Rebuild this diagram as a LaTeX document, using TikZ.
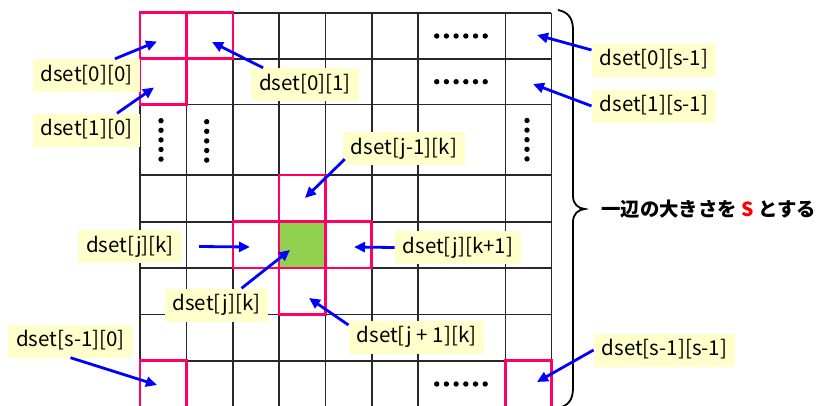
\documentclass[tikz,border=0pt]{standalone}
\usepackage{fontspec}
\setmainfont{Noto Sans CJK JP}
\usetikzlibrary{arrows.meta,calc}
\definecolor{gridgray}{RGB}{40,40,40}
\definecolor{hipink}{RGB}{255,0,102}
\definecolor{tagyellow}{RGB}{255,255,204}
\definecolor{cellgreen}{RGB}{146,208,80}
\begin{document}
\begin{tikzpicture}[x=1pt,y=-1pt,
  gridline/.style={line width=1.6pt, draw=gridgray},
  hilite/.style={line width=2.6pt, draw=hipink},
  tag/.style={fill=tagyellow, font=\fontsize{20.5}{20.5}\selectfont, inner xsep=8pt,
    inner ysep=0pt, minimum height=33pt, text height=15pt, text depth=4pt},
  ptr/.style={draw=blue, line width=2.8pt, -{Triangle[length=11pt,width=10pt]}},
  brace/.style={line width=1.8pt, draw=black}
]
\useasboundingbox (0,0) rectangle (819,405);

% grid
\foreach \x in {140,186.5,233,279,325.5,371.7,418,505.3,551.3}
  \draw[gridline] (\x,12.7) -- (\x,410);
\foreach \y in {12.7,58.7,104.3,175,221.7,268,314.3,360.7}
  \draw[gridline] (140,\y) -- (551.3,\y);

% highlighted cells
\draw[hilite] (140,12.7) rectangle (186.5,58.7);
\draw[hilite] (186.5,12.7) rectangle (233,58.7);
\draw[hilite] (140,58.7) rectangle (186.5,104.3);
\draw[hilite] (279,175) rectangle (325.5,221.7);
\draw[hilite] (233,221.7) rectangle (279,268);
\draw[hilite] (325.5,221.7) rectangle (371.7,268);
\draw[hilite] (279,268) rectangle (325.5,314.3);
\draw[hilite, fill=cellgreen] (279,221.7) rectangle (325.5,268);
\draw[hilite] (140,360.7) rectangle (186.5,412);
\draw[hilite] (505.3,360.7) rectangle (551.3,412);

% ellipsis dots
\foreach \x in {436.7,446.4,456.1,465.8,475.5,485.2} {
  \fill (\x,36) circle[radius=2.7pt];
  \fill (\x,81.7) circle[radius=2.7pt];
  \fill (\x,384) circle[radius=2.7pt];
}
\foreach \y in {0,9.6,19.2,28.8,38.4} {
  \fill (161,120.7+\y) circle[radius=2.7pt];
  \fill (206.7,121.7+\y) circle[radius=2.7pt];
  \fill (527,120.5+\y) circle[radius=2.7pt];
}

% brace
\draw[brace] (558,10) .. controls (568,12) and (573,18) .. (573,30)
  -- (573,196) .. controls (573,204) and (578,208.5) .. (585,209)
  .. controls (578,209.5) and (573,214) .. (573,222)
  -- (573,388) .. controls (573,400) and (568,406) .. (558,408);
\node[font=\fontsize{19.4}{19.4}\selectfont\bfseries, anchor=west, inner sep=0pt] (cap)
  at (601,209) {一辺の大きさを {\color{red}S} とする};

% labels
\node[tag] (l00) at (86.5,75.5) {dset[0][0]};
\node[tag] (l10) at (86.5,130) {dset[1][0]};
\node[tag] (l01) at (305,84.5) {dset[0][1]};
\node[tag] (l0s) at (654,60) {dset[0][s-1]};
\node[tag] (l1s) at (654,106) {dset[1][s-1]};
\node[tag] (ljm) at (404,148.5) {dset[j-1][k]};
\node[tag] (ljkl) at (130,246.5) {dset[j][k]};
\node[tag] (ljkr) at (458,247.5) {dset[j][k+1]};
\node[tag] (ljkb) at (216.5,305) {dset[j][k]};
\node[tag] (ljp) at (416.5,337) {dset[j + 1][k]};
\node[tag] (ls0) at (70.5,341) {dset[s-1][0]};
\node[tag] (lss) at (664.5,350) {dset[s-1][s-1]};

% arrow targets
\coordinate (t00) at (157,41.5);
\coordinate (t10) at (154,87.5);
\coordinate (t01) at (212,42);
\coordinate (t0s) at (537,35);
\coordinate (t1s) at (533,84);
\coordinate (tjm) at (305,198);
\coordinate (tjkl) at (250,247);
\coordinate (tjkr) at (354,247);
\coordinate (tjkb) at (290,250);
\coordinate (tjp) at (309,298);
\coordinate (ts0) at (157,385);
\coordinate (tss) at (537,382);

% arrows
\draw[ptr] ($(l00.north)+(28.5,0)$) -- (t00);
\draw[ptr] ($(l10.north)+(30.5,0)$) -- (t10);
\draw[ptr] ($(l01.north west)+(12,0)$) -- (t01);
\draw[ptr] ($(l0s.west)+(0,-10)$) -- (t0s);
\draw[ptr] (l1s.west) -- (t1s);
\draw[ptr] ($(ljm.south west)+(2,-6)$) -- (tjm);
\draw[ptr] ($(ljkl.east)+(17,0)$) -- (tjkl);
\draw[ptr] (ljkr.west) -- (tjkr);
\draw[ptr] ($(ljkb.north)+(25,0)$) -- (tjkb);
\draw[ptr] ($(ljp.west)+(0,-12)$) -- (tjp);
\draw[ptr] (ls0.south) -- (ts0);
\draw[ptr] (lss.west) -- (tss);
\end{tikzpicture}
\end{document}
